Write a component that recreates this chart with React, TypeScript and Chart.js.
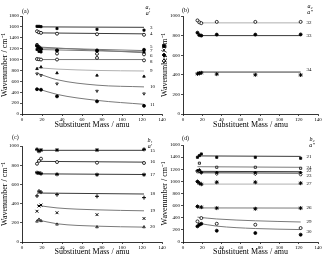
import React, { useEffect, useRef } from "react";
import { Chart, registerables } from "chart.js";

Chart.register(...registerables);

const SERIF = "'Liberation Serif', 'Times New Roman', serif";

// Substituent masses (amu) at which every mode was computed
const mass = [15, 17, 19, 35, 75, 122];
// x positions sampled along the fitted trend lines
const fitFlat = [15, 122];
const fitCurve = [15, 35, 75, 122];

// ---- (a) in-plane modes 3-11 (cm-1) ----
const a3 = [1610, 1610, 1605, 1570, 1555, 1540];
const a3Fit = [1600, 1592];
const a4 = [1520, 1500, 1490, 1475, 1465, 1455];
const a4Fit = [1490, 1472];
const a5 = [1250, 1215, 1190, 1170, 1168, 1180];
const a5Fit = [1215, 1165];
const a6 = [1270, 1232, 1200, 1110, 1105, 1095];
const a6Fit = [1232, 1125];
const a7 = [1185, 1150, 1140, 1165, 1160, 1130];
const a7Fit = [1185, 1140];
const a8 = [1010, 1005, 1000, 1000, 1030, 985];
const a8Fit = [1000, 1000];
const a9 = [830, null, 862, 752, 709, 690];
const a9Fit = [850, 825, 800, 790];
const a10 = [740, null, 710, 556, 422, 373];
const a10Fit = [750, 630, 530, 498];
const a11 = [455, null, 446, 324, 232, 150];
const a11Fit = [468, 360, 250, 178];

// ---- (b) out-of-plane modes 32-34 ----
const b32 = [955, 935, 927, 940, 940, 940];
const b32Fit = [930, 930];
const b33 = [830, 805, 800, 810, 810, 812];
const b33Fit = [800, 800];
const b34 = [410, 415, 420, 407, 400, 398];
const b34Fit = [428, 428];

// ---- (c) in-plane modes 15-20 ----
const c15 = [965, 945, 958, 958, 958, 965];
const c15Fit = [955, 955];
const c16 = [815, 845, 868, 833, 826, 823];
const c16Fit = [840, 832];
const c17 = [722, 719, 712, 705, 701, 701];
const c17Fit = [710, 703];
const c18 = [480, 530, 520, 493, 476, 462];
const c18Fit = [510, 500];
const c19 = [320, 375, 385, 305, 285, 245];
const c19Fit = [382, 355, 335, 325];
const c20 = [215, 235, 220, 184, 156, 156];
const c20Fit = [232, 190, 165, 155];

// ---- (d) out-of-plane modes 21-30 ----
const d21 = [1397, 1425, 1452, 1397, 1397, 1381];
const d21Fit = [1420, 1412];
const d24 = [null, 1300, null, 1233, 1233, 1216];
const d24Fit = [1242, 1232];
const d22 = [1178, 1189, 1151, 1145, 1145, 1145];
const d22Fit = [1165, 1160];
const d23 = [1160, 1170, 1140, 1122, 1120, 1110];
const d23Fit = [1142, 1136];
const d27 = [997, 970, 953, 986, 986, 970];
const d27Fit = [955, 955];
const d26 = [586, null, 575, 559, 548, 559];
const d26Fit = [562, 560];
const d29 = [340, null, 395, 301, 285, 230];
const d29Fit = [410, 380, 350, 330];
const d30 = [258, 285, 301, 186, 148, 121];
const d30Fit = [312, 262, 222, 205];

const aTicks = 1800;
const bTicks = 1000;
const cTicks = 1000;
const dTicks = 1600;

const DARK = "#3a3a3a";
const MID = "#7a7a7a";
const LIGHT = "#b0b0b0";

type Mode = {
  num: string;
  pts: (number | null)[];
  fitX: number[];
  fit: number[];
  shape: string;
  open?: boolean;
  rot?: number;
  line: string;
  nudge?: number;
};

type Panel = {
  tag: string;
  sym: [string, string];
  yMax: number;
  modes: Mode[];
  box: { left: number; top: number; w: number; h: number };
  area: { left: number; top: number; right: number; bottom: number };
  tagPos: [number, number];
  symPos: [number, number];
  extras?: { shape: string; open: boolean; x: number; y: number }[];
};

const panels: Panel[] = [
  {
    tag: "(a)",
    sym: ["a\u2081", "a\u2032"],
    yMax: aTicks,
    box: { left: 0, top: 0, w: 167, h: 130 },
    area: { left: 22, top: 16, right: 162, bottom: 114 },
    tagPos: [22, 11],
    symPos: [148, 7],
    extras: [
      { shape: "rect", open: false, x: 164, y: 46 },
      { shape: "crossRot", open: false, x: 164, y: 50 },
      { shape: "rectRot", open: false, x: 164, y: 55 },
      { shape: "rectRot", open: true, x: 164, y: 61 },
    ],
    modes: [
      { num: "3", pts: a3, fitX: fitFlat, fit: a3Fit, shape: "rect", line: DARK },
      { num: "4", pts: a4, fitX: fitFlat, fit: a4Fit, shape: "circle", open: true, line: DARK },
      { num: "5", pts: a5, fitX: fitFlat, fit: a5Fit, shape: "circle", line: MID, nudge: -4 },
      { num: "6", pts: a6, fitX: fitFlat, fit: a6Fit, shape: "circle", open: true, line: MID, nudge: 3 },
      { num: "7", pts: a7, fitX: fitFlat, fit: a7Fit, shape: "rect", line: MID, nudge: -1 },
      { num: "8", pts: a8, fitX: fitFlat, fit: a8Fit, shape: "circle", open: true, line: MID, nudge: 2 },
      { num: "9", pts: a9, fitX: fitCurve, fit: a9Fit, shape: "triangle", line: LIGHT },
      { num: "10", pts: a10, fitX: fitCurve, fit: a10Fit, shape: "triangle", open: true, rot: 180, line: MID },
      { num: "11", pts: a11, fitX: fitCurve, fit: a11Fit, shape: "circle", line: MID },
    ],
  },
  {
    tag: "(b)",
    sym: ["a\u2082", "a\u2033"],
    yMax: bTicks,
    box: { left: 160, top: 0, w: 163, h: 130 },
    area: { left: 23, top: 16, right: 160, bottom: 114 },
    tagPos: [22, 10],
    symPos: [150, 6],
    modes: [
      { num: "32", pts: b32, fitX: fitFlat, fit: b32Fit, shape: "circle", open: true, line: LIGHT },
      { num: "33", pts: b33, fitX: fitFlat, fit: b33Fit, shape: "circle", line: DARK },
      { num: "34", pts: b34, fitX: fitFlat, fit: b34Fit, shape: "star", line: DARK, nudge: -2 },
    ],
  },
  {
    tag: "(c)",
    sym: ["b\u2081", "a\u2032"],
    yMax: cTicks,
    box: { left: 0, top: 128, w: 167, h: 129 },
    area: { left: 22, top: 18, right: 162, bottom: 114 },
    tagPos: [12, 9],
    symPos: [150, 12],
    modes: [
      { num: "15", pts: c15, fitX: fitFlat, fit: c15Fit, shape: "star", line: DARK },
      { num: "16", pts: c16, fitX: fitFlat, fit: c16Fit, shape: "circle", open: true, line: DARK },
      { num: "17", pts: c17, fitX: fitFlat, fit: c17Fit, shape: "star", line: DARK },
      { num: "18", pts: c18, fitX: fitFlat, fit: c18Fit, shape: "cross", line: DARK },
      { num: "19", pts: c19, fitX: fitCurve, fit: c19Fit, shape: "crossRot", line: MID },
      { num: "20", pts: c20, fitX: fitCurve, fit: c20Fit, shape: "triangle", open: true, line: MID },
    ],
  },
  {
    tag: "(d)",
    sym: ["b\u2082", "a\u2033"],
    yMax: dTicks,
    box: { left: 160, top: 128, w: 163, h: 129 },
    area: { left: 23, top: 17, right: 160, bottom: 114 },
    tagPos: [22, 10],
    symPos: [152, 11],
    modes: [
      { num: "21", pts: d21, fitX: fitFlat, fit: d21Fit, shape: "rect", line: DARK },
      { num: "24", pts: d24, fitX: fitFlat, fit: d24Fit, shape: "rect", open: true, line: MID },
      { num: "22", pts: d22, fitX: fitFlat, fit: d22Fit, shape: "rectRot", line: DARK, nudge: -1 },
      { num: "23", pts: d23, fitX: fitFlat, fit: d23Fit, shape: "rectRot", open: true, line: DARK, nudge: 3 },
      { num: "27", pts: d27, fitX: fitFlat, fit: d27Fit, shape: "star", line: LIGHT },
      { num: "26", pts: d26, fitX: fitFlat, fit: d26Fit, shape: "star", line: MID },
      { num: "29", pts: d29, fitX: fitCurve, fit: d29Fit, shape: "circle", open: true, line: MID },
      { num: "30", pts: d30, fitX: fitCurve, fit: d30Fit, shape: "circle", line: MID, nudge: 2 },
    ],
  },
];

function drawMarker(ctx: CanvasRenderingContext2D, shape: string, open: boolean, x: number, y: number) {
  ctx.save();
  ctx.fillStyle = open ? "#fff" : "#000";
  ctx.strokeStyle = "#000";
  ctx.lineWidth = 0.8;
  ctx.beginPath();
  if (shape === "rect") {
    ctx.rect(x - 1.5, y - 1.5, 3, 3);
    ctx.fill();
    ctx.stroke();
  } else if (shape === "rectRot") {
    ctx.moveTo(x, y - 2);
    ctx.lineTo(x + 2, y);
    ctx.lineTo(x, y + 2);
    ctx.lineTo(x - 2, y);
    ctx.closePath();
    ctx.fill();
    ctx.stroke();
  } else {
    ctx.moveTo(x - 1.5, y - 1.5);
    ctx.lineTo(x + 1.5, y + 1.5);
    ctx.moveTo(x + 1.5, y - 1.5);
    ctx.lineTo(x - 1.5, y + 1.5);
    ctx.stroke();
  }
  ctx.restore();
}

function PanelChart({ p }: { p: Panel }) {
  const ref = useRef<HTMLCanvasElement | null>(null);

  useEffect(() => {
    const canvas = ref.current;
    if (!canvas) return;

    const datasets: any[] = [];
    p.modes.forEach((m) => {
      datasets.push({
        type: "scatter",
        showLine: true,
        data: m.fitX.map((x, i) => ({ x, y: m.fit[i] })),
        borderColor: m.line,
        borderWidth: 1,
        pointRadius: 0,
        cubicInterpolationMode: "monotone",
        order: 2,
      });
    });
    p.modes.forEach((m) => {
      const cross = m.shape === "star" || m.shape === "cross" || m.shape === "crossRot";
      datasets.push({
        type: "scatter",
        data: mass
          .map((x, i) => ({ x, y: m.pts[i] }))
          .filter((d) => d.y !== null),
        pointStyle: m.shape,
        rotation: m.rot ?? 0,
        pointRadius: cross ? 2 : 1.5,
        pointBackgroundColor: m.open ? "#fff" : "#000",
        pointBorderColor: "#000",
        pointBorderWidth: cross ? 1 : 0.8,
        showLine: false,
        order: 1,
      });
    });

    const notes = {
      id: "notes",
      afterDraw(chart: any) {
        const ctx: CanvasRenderingContext2D = chart.ctx;
        const xs = chart.scales.x;
        const ys = chart.scales.y;
        ctx.save();
        ctx.fillStyle = "#000";
        ctx.textBaseline = "middle";
        ctx.font = `5px ${SERIF}`;
        ctx.textAlign = "left";
        p.modes.forEach((m) => {
          const yEnd = m.fit[m.fit.length - 1];
          ctx.fillText(m.num, xs.getPixelForValue(128), ys.getPixelForValue(yEnd) + (m.nudge ?? 0));
        });
        ctx.font = `6px ${SERIF}`;
        ctx.fillText(p.tag, p.tagPos[0], p.tagPos[1]);
        ctx.textAlign = "center";
        ctx.font = `italic 6px ${SERIF}`;
        ctx.fillText(p.sym[0], p.symPos[0], p.symPos[1]);
        ctx.fillText(p.sym[1], p.symPos[0], p.symPos[1] + 6);
        ctx.restore();
        (p.extras || []).forEach((e) => drawMarker(ctx, e.shape, e.open, e.x - p.box.left, e.y - p.box.top));
      },
    };

    const axisFont = { size: 5, family: SERIF };
    const titleFont = { size: 8, family: SERIF };
    const plain = (v: any) => String(v);

    const chart = new Chart(canvas, {
      type: "scatter",
      data: { datasets },
      options: {
        animation: false,
        responsive: false,
        maintainAspectRatio: false,
        events: [],
        layout: {
          padding: { top: p.area.top, right: p.box.w - p.area.right, left: 0, bottom: 0 },
        },
        plugins: {
          legend: { display: false },
          tooltip: { enabled: false },
        },
        scales: {
          x: {
            type: "linear",
            min: 0,
            max: 140,
            ticks: { stepSize: 20, font: axisFont, color: "#000", padding: 1, maxRotation: 0, autoSkip: false, callback: plain },
            grid: { drawOnChartArea: false, color: "#000", tickLength: 2, lineWidth: 0.7 },
            border: { color: "#000", width: 0.8 },
            title: { display: true, text: "Substituent Mass / amu", font: titleFont, color: "#000", padding: 0 },
            afterFit: (s: any) => {
              s.height = p.box.h - p.area.bottom;
            },
          },
          y: {
            type: "linear",
            min: 0,
            max: p.yMax,
            ticks: { stepSize: 200, font: axisFont, color: "#000", padding: 1, autoSkip: false, callback: plain },
            grid: { drawOnChartArea: false, color: "#000", tickLength: 2, lineWidth: 0.7 },
            border: { color: "#000", width: 0.8 },
            title: { display: true, text: "Wavenumber / cm\u207B\u00B9", font: titleFont, color: "#000", padding: 0 },
            afterFit: (s: any) => {
              s.width = p.area.left;
            },
          },
        },
      },
      plugins: [notes],
    } as any);

    return () => chart.destroy();
  }, [p]);

  return (
    <canvas
      ref={ref}
      width={p.box.w}
      height={p.box.h}
      style={{
        position: "absolute",
        left: p.box.left,
        top: p.box.top,
        width: p.box.w,
        height: p.box.h,
      }}
    />
  );
}

export default function App() {
  return (
    <div
      style={{
        position: "fixed",
        left: 0,
        top: 0,
        width: 323,
        height: 257,
        background: "#fff",
        overflow: "hidden",
      }}
    >
      {panels.map((p) => (
        <PanelChart key={p.tag} p={p} />
      ))}
    </div>
  );
}
